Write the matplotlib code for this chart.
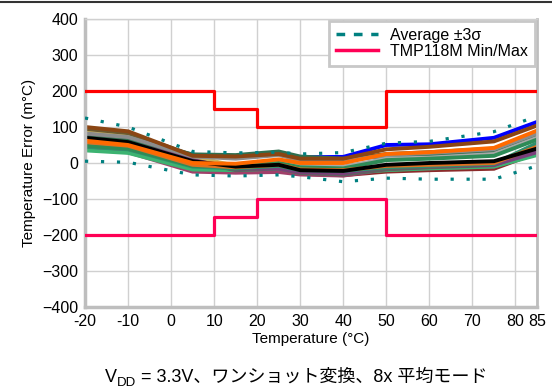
import matplotlib
matplotlib.use("Agg")
import matplotlib.pyplot as plt
from matplotlib.lines import Line2D

plt.rcParams["font.family"] = ["Liberation Sans", "Noto Sans CJK JP", "DejaVu Sans"]

# temperature points (degC) where each device was measured
temps = [-20, -10, 5, 15, 25, 30, 40, 50, 60, 75, 85]

# error of individual devices (m degC)
dev_blue = [50, 40, -5, -5, 0, 16, 17, 50, 52, 70, 114]
dev_white = [70, 60, 0, 0, 8, 0, 2, 32, 38, 52, 97]
dev_brown = [100, 88, 20, 18, 25, 12, 12, 38, 45, 60, 104]
dev_olive = [95, 83, 22, 18, 28, 15, 10, 25, 30, 40, 85]
dev_gray = [82, 72, 18, 12, 22, 8, 5, 22, 28, 38, 82]
dev_dkgreen = [75, 65, 24, 22, 32, 18, 12, 18, 22, 30, 75]
dev_ltgray = [55, 45, 0, -5, 5, -8, -10, 12, 15, 25, 70]
dev_teal = [45, 38, -10, -15, -8, -20, -22, -12, -8, -2, 55]
dev_green = [48, 40, -8, -10, 0, -12, -15, 8, 12, 20, 65]
dev_khaki = [85, 75, 18, -8, -10, -22, -25, -15, -12, -8, 35]
dev_darkred = [95, 85, 10, -20, -22, -30, -34, -24, -20, -16, 28]
dev_purple = [70, 62, 8, -15, -15, -25, -28, -10, -8, -5, 30]
dev_magenta = [38, 30, -24, -27, -25, -32, -35, -18, -15, -10, 25]
dev_seagreen = [35, 28, -18, -20, -15, -25, -28, -20, -15, -10, 22]
dev_dimgray = [52, 45, 5, -20, -15, -28, -32, -18, -12, -6, 38]
dev_orange2 = [58, 48, -5, -12, -5, -18, -20, -8, -5, 0, 45]
dev_black = [70, 58, 5, -10, -5, -20, -22, -5, 0, 5, 40]
dev_orange = [62, 50, 0, -2, 10, 0, 0, 25, 30, 42, 90]

# drawn in this order, later ones on top
devices = [
    (dev_blue, "#0000FF"), (dev_white, "#FFFFFF"), (dev_darkred, "#8B2A2A"),
    (dev_khaki, "#C8B560"), (dev_magenta, "#A0406A"), (dev_seagreen, "#3CB371"),
    (dev_dimgray, "#606060"), (dev_purple, "#7B3F7B"), (dev_teal, "#2F8F6F"),
    (dev_olive, "#6B5A2F"), (dev_dkgreen, "#2F6F4F"), (dev_gray, "#8C8C8C"),
    (dev_ltgray, "#A8A8A8"), (dev_green, "#2E8B57"), (dev_orange2, "#E07020"),
    (dev_black, "#000000"), (dev_brown, "#8B4513"), (dev_orange, "#FF6A00"),
]

# average +/- 3 sigma
sigma_hi = [125, 100, 32, 28, 30, 25, 29, 55, 60, 87, 130]
sigma_lo = [5, 2, -33, -36, -33, -38, -52, -42, -45, -45, -8]

# specification limits (step)
limit_t = [-20, 10, 20, 50, 85]
limit_max = [200, 150, 100, 200, 200]
limit_min = [-200, -150, -100, -200, -200]

fig = plt.figure(figsize=(5.52, 3.92), dpi=100)
ax = fig.add_axes([85 / 552, 1 - 307 / 392, (537 - 85) / 552, (307 - 19) / 392])

for vals, col in devices:
    ax.plot(temps, vals, color=col, lw=2.8, solid_joinstyle="miter", zorder=2)

for s in (sigma_hi, sigma_lo):
    ax.plot(temps, s, color="#008080", lw=2.3, linestyle=(0, (1, 4)),
            dash_capstyle="butt", zorder=3)

ax.step(limit_t, limit_max, where="post", color="#FF0000", lw=2.3, zorder=3)
ax.step(limit_t, limit_min, where="post", color="#FF0055", lw=2.3, zorder=3)

ax.set_xlim(-20, 85)
ax.set_ylim(-400, 400)
ax.set_xticks([-20, -10, 0, 10, 20, 30, 40, 50, 60, 70, 80, 85])
ax.set_xticklabels(["-20", "-10", "0", "10", "20", "30", "40", "50", "60", "70", "80", "85"])
ax.set_yticks(range(-400, 401, 100))
ax.tick_params(length=0, labelsize=11.5, pad=5, colors="#000000")
ax.grid(True, color="#D0D0D0", lw=1)
ax.set_axisbelow(True)
for side in ("left", "bottom"):
    ax.spines[side].set_color("#BEBEBE")
    ax.spines[side].set_linewidth(2.5)
ax.spines["right"].set_color("#BEBEBE")
ax.spines["right"].set_linewidth(2)
ax.spines["top"].set_color("#D0D0D0")
ax.spines["top"].set_linewidth(1)

ax.set_xlabel("Temperature (°C)", fontsize=11, labelpad=2)
ax.set_ylabel("Temperature Error (m°C)", fontsize=11, labelpad=4)

handles = [
    Line2D([], [], color="#008080", lw=2.5, linestyle=(0, (2.5, 2.5))),
    Line2D([], [], color="#FF0055", lw=2.5),
]
leg = ax.legend(handles, ["Average ±3σ", "TMP118M Min/Max"], loc="upper right",
                fontsize=11.5, frameon=True, fancybox=False, borderaxespad=0.1,
                handlelength=2.6, labelspacing=0.05, borderpad=0.45, framealpha=1)
leg.get_frame().set_edgecolor("#C8C8C8")
leg.get_frame().set_linewidth(2)

# caption: V + subscript DD + rest, chained left to right
cap1 = fig.text(105 / 552, 1 - 386 / 392, "V", fontsize=13, ha="left", va="bottom")
cap2 = plt.annotate("DD", xy=(1, 0), xycoords=cap1, xytext=(0, -2.5),
                    textcoords="offset points", fontsize=9.5, ha="left", va="bottom",
                    annotation_clip=False)
cap3 = plt.annotate(" = 3.3V、ワンショット変換、8x 平均モード", xy=(1, 0), xycoords=(cap2, cap1),
                    fontsize=13, ha="left", va="bottom", annotation_clip=False)

fig.add_artist(Line2D([0, 1], [1 - 2 / 392, 1 - 2 / 392], color="#333333", lw=1.5,
                      transform=fig.transFigure))

fig.savefig("out.png", dpi=100)
